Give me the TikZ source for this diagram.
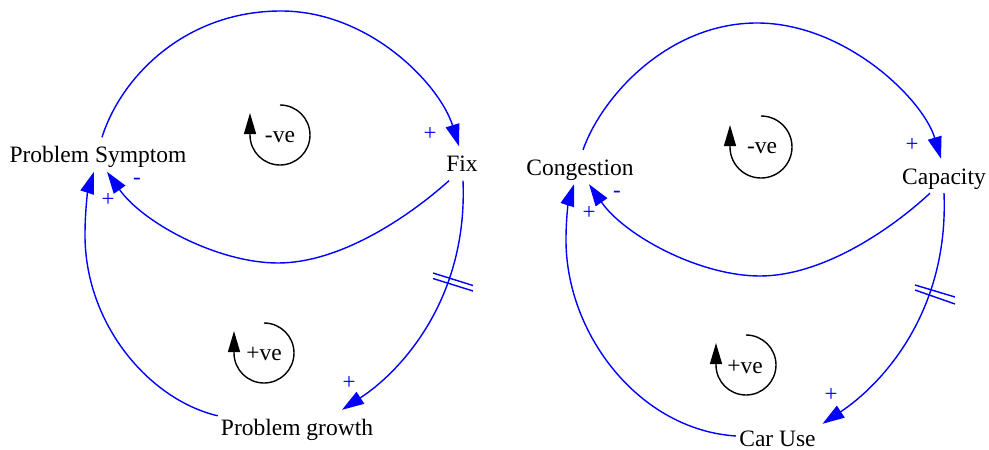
\documentclass[tikz,border=0pt]{standalone}
\usepackage{fontspec}
\setmainfont{Liberation Serif}
\usetikzlibrary{arrows.meta}
\begin{document}
\begin{tikzpicture}[x=1pt,y=1pt,
  var/.style={font=\fontsize{23.5}{26}\selectfont, inner sep=0pt, minimum height=34pt, text height=19pt, text depth=3pt},
  link/.style={draw=blue, line width=1.4pt, -{Triangle[length=22pt,width=14pt]}},
  pol/.style={text=blue, font=\fontsize{23}{26}\selectfont, inner sep=0pt},
  loopmark/.style={draw=black, line width=1.4pt, -{Triangle[length=21pt,width=12pt]}},
  looplabel/.style={font=\fontsize{23.5}{26}\selectfont, inner sep=0pt},
  delay/.style={draw=blue, line width=1.4pt}]
\useasboundingbox[fill=white] (0,0) rectangle (989,-450);

% ---------- left diagram ----------
\node[var] (ps)  at (98,-154.5) {Problem Symptom};
\node[var] (fix) at (462,-163.5) {Fix};
\node[var] (pg)  at (297,-427) {Problem growth};

\draw[link] ([xshift=4pt]ps.north) .. controls (121,-77) and (185,-11) .. (281,-11)
  .. controls (370,-11) and (440,-85) .. ([xshift=-3pt]fix.north);
\draw[link] ([xshift=-13pt]fix.south) .. controls (405,-220) and (338,-263) .. (278,-263)
  .. controls (218,-263) and (143,-223) .. ([xshift=9pt]ps.south);
\draw[link] ([xshift=1pt]fix.south) .. controls (468,-300) and (400,-372) .. ([xshift=45pt]pg.north);
\draw[link] ([xshift=-3pt,yshift=-6pt]pg.north west) .. controls (150,-400) and (85,-325) .. (85,-235)
  .. controls (85,-210) and (88,-190) .. ([xshift=-4pt]ps.south);

\draw[delay] (433,-273) -- (473,-285.5);
\draw[delay] (433,-278.5) -- (473,-291);

\node[pol] (l1) at (430,-134) {+};
\node[pol] (l2) at (137,-181) {-};
\node[pol] (l3) at (349,-383) {+};
\node[pol] (l4) at (108,-200) {+};

\draw[loopmark] (280,-105) arc[start angle=90, end angle=-180, radius=30pt] -- ++(0,22);
\node[looplabel] (lneg) at (280,-137) {-ve};
\draw[loopmark] (264,-323) arc[start angle=90, end angle=-180, radius=30pt] -- ++(0,22);
\node[looplabel] (lpos) at (264,-354) {+ve};

% ---------- right diagram ----------
\node[var] (cong) at (580,-167) {Congestion};
\node[var] (cap)  at (944,-176) {Capacity};
\node[var, minimum height=16pt, text height=16pt, text depth=0pt] (car) at (777.5,-438) {Car Use};

\draw[link] ([xshift=3pt]cong.north) .. controls (603,-94) and (670,-23) .. (757,-23)
  .. controls (845,-23) and (923,-99) .. ([xshift=-3pt]cap.north);
\draw[link] ([xshift=-14pt]cap.south) .. controls (887,-233) and (820,-276) .. (760,-276)
  .. controls (700,-276) and (625,-236) .. ([xshift=9pt]cong.south);
\draw[link] (cap.south) .. controls (949,-313) and (881,-385) .. ([xshift=45pt,yshift=6pt]car.north);
\draw[link] ([xshift=-3pt,yshift=2pt]car.west) .. controls (640,-430) and (566,-335) .. (566,-240)
  .. controls (566,-215) and (569,-200) .. ([xshift=-6pt]cong.south);

\draw[delay] (915,-285) -- (955,-297);
\draw[delay] (915,-290) -- (955,-304);

\node[pol] (r1) at (912,-145) {+};
\node[pol] (r2) at (617,-194) {-};
\node[pol] (r3) at (831,-395) {+};
\node[pol] (r4) at (589,-213) {+};

\draw[loopmark] (761,-116) arc[start angle=90, end angle=-180, radius=31pt] -- ++(0,22);
\node[looplabel] (rneg) at (762,-148) {-ve};
\draw[loopmark] (746,-335) arc[start angle=90, end angle=-180, radius=30pt] -- ++(0,22);
\node[looplabel] (rpos) at (745,-367) {+ve};
\end{tikzpicture}
\end{document}
